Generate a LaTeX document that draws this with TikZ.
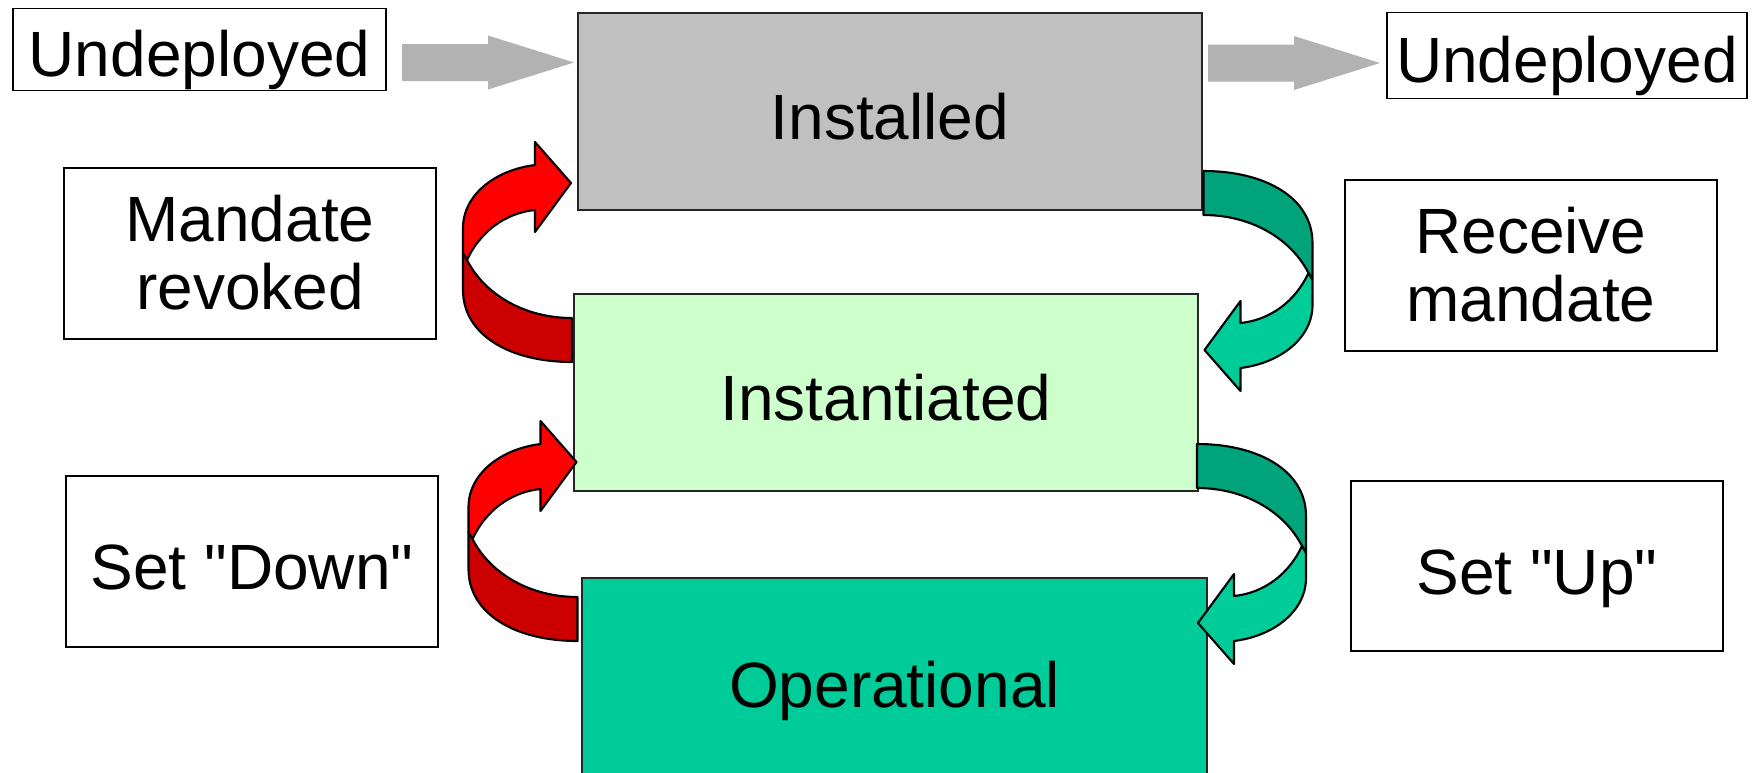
\documentclass[tikz,border=0pt]{standalone}
\usepackage{fontspec}
\setmainfont{Liberation Sans}[Ligatures=TeXOff]
\usepackage{xcolor}

\definecolor{installedgray}{HTML}{C0C0C0}
\definecolor{instgreen}{HTML}{CCFFCC}
\definecolor{opgreen}{HTML}{00CC99}
\definecolor{opdark}{HTML}{00A37A}
\definecolor{revred}{HTML}{FF0000}
\definecolor{revdark}{HTML}{CC0000}
\definecolor{flowgray}{HTML}{B2B2B2}

\tikzset{
    pics/curvedarrow/.style 2 args={code={
        % back part, then front part with the head
        \filldraw[fill=#2, line width=0.6pt, line join=round] (-50.5,8) .. controls (-32.5,43) and (7.5,66) .. (54.5,66) -- (54.5,110) .. controls (-7.5,110) and (-54.5,83) .. (-54.5,38) -- (-54.5,1) -- cycle;
        \filldraw[fill=#1, line width=0.6pt, line join=round] (-54.5,-24) .. controls (-54.5,-57) and (-22.5,-82) .. (17.5,-87) -- (17.5,-110) -- (53.5,-69) -- (17.5,-20) -- (17.5,-42) .. controls (-12.5,-39) and (-37.5,-20) .. (-50.5,8) -- (-54.5,1) -- cycle;
    }},
    pics/flowarrow/.style={code={
        \fill[flowgray] (0,-18.5) -- (86,-18.5) -- (86,-27) -- (172,0) -- (86,27) -- (86,18.5) -- (0,18.5) -- cycle;
    }}
}

\begin{document}
\begin{tikzpicture}[
    x=0.01cm, y=-0.01cm,
    every node/.style = {font=\fontsize{18.2}{19.1}\selectfont, text height=0.56cm, text depth=0pt},
    state/.style = {rectangle, draw=black!85, line width=0.6pt, minimum width=6.24cm, minimum height=1.97cm, inner sep=0pt},
    event/.style = {rectangle, draw, line width=0.45pt, minimum width=3.72cm, minimum height=1.71cm, inner sep=0pt, align=center},
    twolines/.style = {text height=1.11cm},
    endpoint/.style = {rectangle, draw, line width=0.45pt, minimum height=0.82cm, inner sep=0pt, text height=0.53cm}
]
    \useasboundingbox (0,0) rectangle (1753,772);

    % Nodes
    \node (installed) [state, fill=installedgray] at (890,111.5) {Installed};
    \node (instantiated) [state, fill=instgreen] at (886,392.5) {Instantiated};
    \node (operational) [state, fill=opgreen, minimum width=6.25cm, minimum height=2.02cm] at (894.5,679) {Operational};
    \node (undepin) [endpoint, minimum width=3.73cm] at (199.5,49.5) {Undeployed};
    \node (undepout) [endpoint, minimum width=3.60cm, minimum height=0.86cm] at (1567,55.5) {Undeployed};
    \node (revoked) [event, twolines] at (250,253.5) {Mandate\\revoked};
    \node (receive) [event, twolines] at (1531,265.5) {Receive\\mandate};
    \node (setdown) [event] at (252,561.5) {Set "Down"};
    \node (setup) [event, minimum height=1.70cm] at (1537,566) {Set "Up"};

    % Arrows
    \pic at (402,62.5) {flowarrow};
    \pic at (1208,63) {flowarrow};
    \pic at (517.5,252) {curvedarrow={revred}{revdark}};
    \pic at (523,531) {curvedarrow={revred}{revdark}};
    \pic[rotate=180] at (1258,281) {curvedarrow={opgreen}{opdark}};
    \pic[rotate=180] at (1251.5,554) {curvedarrow={opgreen}{opdark}};

\end{tikzpicture}
\end{document}
